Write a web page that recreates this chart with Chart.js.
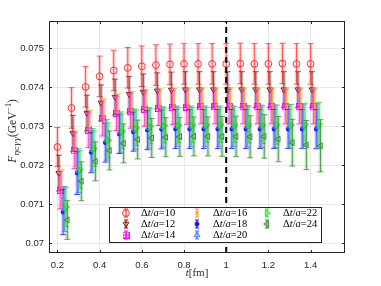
<!DOCTYPE html>
<html>
<head>
<meta charset="utf-8">
<script src="https://cdn.jsdelivr.net/npm/chart.js@4.4.0/dist/chart.umd.min.js"></script>
<style>
  html, body { margin: 0; padding: 0; background: #fff; }
  #wrap { width: 381px; height: 286px; }
</style>
</head>
<body>
<div id="wrap"><canvas id="myChart" width="381" height="286"></canvas></div>
<script>
// t in fm (t = n*a), one value per time slice
const tFm = [0.2, 0.2667, 0.3333, 0.4, 0.4667, 0.5333, 0.6, 0.6667, 0.7333, 0.8,
  0.8667, 0.9333, 1.0, 1.0667, 1.1333, 1.2, 1.2667, 1.3333, 1.4];

const seriesNames = ["10", "12", "14", "16", "18", "20", "22", "24"];

const val10 = [0.07247, 0.07347, 0.07401, 0.07428, 0.07443, 0.07450, 0.07454, 0.07457, 0.07459, 0.07460, 0.07460, 0.07460, 0.07460, 0.07461, 0.07460, 0.07460, 0.07461, 0.07460, 0.07460];
const err10 = [0.00050, 0.00052, 0.00052, 0.00052, 0.00052, 0.00052, 0.00052, 0.00052, 0.00052, 0.00052, 0.00052, 0.00052, 0.00052, 0.00052, 0.00052, 0.00052, 0.00052, 0.00052, 0.00052];

const val12 = [0.07180, 0.07282, 0.07334, 0.07360, 0.07375, 0.07382, 0.07388, 0.07391, 0.07393, 0.07394, 0.07394, 0.07394, 0.07394, 0.07394, 0.07394, 0.07394, 0.07394, 0.07394, 0.07394];
const err12 = [0.00046, 0.00046, 0.00046, 0.00046, 0.00046, 0.00046, 0.00046, 0.00046, 0.00046, 0.00046, 0.00046, 0.00046, 0.00046, 0.00046, 0.00046, 0.00046, 0.00046, 0.00046, 0.00046];

const val14 = [0.07136, 0.07237, 0.07290, 0.07319, 0.07333, 0.07339, 0.07344, 0.07346, 0.07348, 0.07349, 0.07350, 0.07350, 0.07350, 0.07350, 0.07350, 0.07350, 0.07350, 0.07350, 0.07350];
const err14 = [0.00048, 0.00046, 0.00045, 0.00044, 0.00044, 0.00044, 0.00044, 0.00044, 0.00044, 0.00044, 0.00044, 0.00044, 0.00044, 0.00044, 0.00044, 0.00044, 0.00044, 0.00044, 0.00044];

const val16 = [0.07141, 0.07242, 0.07296, 0.07325, 0.07338, 0.07344, 0.07349, 0.07351, 0.07352, 0.07353, 0.07353, 0.07353, 0.07353, 0.07353, 0.07353, 0.07353, 0.07353, 0.07353, 0.07353];
const err16 = [0.00047, 0.00046, 0.00045, 0.00045, 0.00045, 0.00045, 0.00045, 0.00045, 0.00045, 0.00045, 0.00045, 0.00045, 0.00045, 0.00045, 0.00045, 0.00045, 0.00045, 0.00045, 0.00045];

const val18 = [0.07080, 0.07180, 0.07233, 0.07258, 0.07280, 0.07286, 0.07290, 0.07292, 0.07293, 0.07293, 0.07293, 0.07293, 0.07293, 0.07293, 0.07293, 0.07293, 0.07293, 0.07293, 0.07293];
const err18 = [0.00058, 0.00055, 0.00052, 0.00050, 0.00050, 0.00050, 0.00050, 0.00050, 0.00050, 0.00050, 0.00050, 0.00050, 0.00050, 0.00050, 0.00050, 0.00050, 0.00050, 0.00050, 0.00050];

const val20 = [0.07088, 0.07186, 0.07240, 0.07265, 0.07285, 0.07292, 0.07296, 0.07298, 0.07300, 0.07300, 0.07300, 0.07300, 0.07300, 0.07300, 0.07300, 0.07300, 0.07300, 0.07300, 0.07300];
const err20 = [0.00058, 0.00056, 0.00054, 0.00052, 0.00052, 0.00052, 0.00052, 0.00052, 0.00052, 0.00052, 0.00052, 0.00052, 0.00052, 0.00053, 0.00054, 0.00055, 0.00056, 0.00057, 0.00058];

const val22 = [0.07093, 0.07189, 0.07243, 0.07264, 0.07287, 0.07296, 0.07300, 0.07302, 0.07303, 0.07303, 0.07304, 0.07304, 0.07304, 0.07304, 0.07304, 0.07304, 0.07304, 0.07305, 0.07305];
const err22 = [0.00050, 0.00048, 0.00046, 0.00045, 0.00045, 0.00045, 0.00045, 0.00045, 0.00045, 0.00045, 0.00045, 0.00045, 0.00046, 0.00047, 0.00048, 0.00050, 0.00052, 0.00054, 0.00056];

const val24 = [0.07060, 0.07159, 0.07210, 0.07238, 0.07256, 0.07266, 0.07270, 0.07272, 0.07273, 0.07274, 0.07274, 0.07274, 0.07274, 0.07273, 0.07274, 0.07267, 0.07258, 0.07252, 0.07250];
const err24 = [0.00050, 0.00050, 0.00050, 0.00050, 0.00050, 0.00050, 0.00050, 0.00050, 0.00050, 0.00050, 0.00050, 0.00051, 0.00052, 0.00054, 0.00056, 0.00058, 0.00060, 0.00063, 0.00067];

const xTicks = [0.2, 0.4, 0.6, 0.8, 1, 1.2, 1.4];
const yTicks = [0.07, 0.071, 0.072, 0.073, 0.074, 0.075];

const allVals = [val10, val12, val14, val16, val18, val20, val22, val24];
const allErrs = [err10, err12, err14, err16, err18, err20, err22, err24];

// square with a plus inside, used for the dt/a=14 marker
function boxPlus(color) {
  const c = document.createElement("canvas");
  c.width = 7;
  c.height = 7;
  const g = c.getContext("2d");
  g.strokeStyle = color;
  g.lineWidth = 1;
  g.strokeRect(0.5, 0.5, 6, 6);
  g.beginPath();
  g.moveTo(3.5, 0.5); g.lineTo(3.5, 6.5);
  g.moveTo(0.5, 3.5); g.lineTo(6.5, 3.5);
  g.stroke();
  return c;
}

const styles = [
  { color: "rgb(255,45,45)", band: "rgba(255,90,90,0.28)", pointStyle: "circle", rotation: 0, radius: 3.4 },
  { color: "rgb(135,25,25)", band: "rgba(135,60,60,0.28)", pointStyle: "triangle", rotation: 180, radius: 3.4 },
  { color: "rgb(255,0,255)", band: "rgba(255,80,255,0.28)", pointStyle: boxPlus("rgb(255,0,255)"), rotation: 0, radius: 3 },
  { color: "rgb(255,150,30)", band: "rgba(255,170,60,0.3)", pointStyle: "crossRot", rotation: 0, radius: 2.6 },
  { color: "rgb(20,20,255)", band: "rgba(60,60,255,0.22)", pointStyle: "star", rotation: 0, radius: 2.4 },
  { color: "rgb(70,130,240)", band: "rgba(90,140,240,0.28)", pointStyle: "triangle", rotation: 0, radius: 3.4 },
  { color: "rgb(40,230,40)", band: "rgba(80,230,80,0.28)", pointStyle: "triangle", rotation: 90, radius: 3.4 },
  { color: "rgb(50,140,50)", band: "rgba(70,150,70,0.28)", pointStyle: "triangle", rotation: -90, radius: 3.4 }
];

const datasets = seriesNames.map((name, i) => ({
  label: "\u0394t/a=" + name,
  data: tFm.map((t, j) => ({ x: t + i * 0.0067, y: allVals[i][j] })),
  errors: allErrs[i],
  bandColor: styles[i].band,
  showLine: false,
  borderColor: styles[i].color,
  backgroundColor: "rgba(0,0,0,0)",
  pointBackgroundColor: "rgba(0,0,0,0)",
  pointStyle: styles[i].pointStyle,
  pointRotation: styles[i].rotation,
  pointRadius: styles[i].radius,
  pointBorderWidth: i === 4 ? 1.4 : 1,
  order: -i
}));

// dashed line at t = 1 fm
datasets.push({
  label: "t1",
  data: [{ x: 1, y: 0.06975 }, { x: 1, y: 0.0757 }],
  showLine: true,
  borderColor: "#000",
  borderWidth: 2,
  borderDash: [6, 4],
  pointRadius: 0,
  order: -100
});

const axisColor = "#262626";

const errorBars = {
  id: "errorBars",
  beforeDatasetDraw(chart, args) {
    const ds = chart.data.datasets[args.index];
    if (!ds.errors) return;
    const ctx = chart.ctx;
    const xs = chart.scales.x, ys = chart.scales.y;
    ctx.save();
    ds.data.forEach((p, j) => {
      const x = xs.getPixelForValue(p.x);
      const top = ys.getPixelForValue(p.y + ds.errors[j]);
      const bot = ys.getPixelForValue(p.y - ds.errors[j]);
      ctx.fillStyle = ds.bandColor;
      ctx.fillRect(x - 1.8, top, 3.6, bot - top);
      ctx.strokeStyle = ds.borderColor;
      ctx.globalAlpha = 0.85;
      ctx.lineWidth = 0.9;
      ctx.beginPath();
      ctx.moveTo(x, top); ctx.lineTo(x, bot);
      ctx.moveTo(x - 3, top); ctx.lineTo(x + 3, top);
      ctx.moveTo(x - 3, bot); ctx.lineTo(x + 3, bot);
      ctx.stroke();
      ctx.globalAlpha = 1;
    });
    ctx.restore();
  }
};

// draws a run of text pieces: [text, font, dy]
function drawPieces(ctx, pieces, x, y) {
  let cx = x;
  pieces.forEach(([txt, font, dy]) => {
    ctx.font = font;
    ctx.fillText(txt, cx, y + (dy || 0));
    cx += ctx.measureText(txt).width;
  });
  return cx - x;
}
function piecesWidth(ctx, pieces) {
  let w = 0;
  pieces.forEach(([txt, font]) => { ctx.font = font; w += ctx.measureText(txt).width; });
  return w;
}

const frame = {
  id: "frame",
  afterDraw(chart) {
    const ctx = chart.ctx;
    const ca = chart.chartArea;
    const xs = chart.scales.x, ys = chart.scales.y;
    ctx.save();
    // box and inward ticks
    ctx.strokeStyle = axisColor;
    ctx.lineWidth = 1;
    ctx.strokeRect(ca.left + 0.5, ca.top + 0.5, ca.right - ca.left - 1, ca.bottom - ca.top - 1);
    ctx.beginPath();
    xTicks.forEach(v => {
      const x = Math.round(xs.getPixelForValue(v)) + 0.5;
      ctx.moveTo(x, ca.bottom); ctx.lineTo(x, ca.bottom - 3);
      ctx.moveTo(x, ca.top); ctx.lineTo(x, ca.top + 3);
    });
    yTicks.forEach(v => {
      const y = Math.round(ys.getPixelForValue(v)) + 0.5;
      ctx.moveTo(ca.left, y); ctx.lineTo(ca.left + 3, y);
      ctx.moveTo(ca.right, y); ctx.lineTo(ca.right - 3, y);
    });
    ctx.stroke();

    // legend box
    const bx = ca.left + 60, bw = 212, bh = 35;
    const by = ca.bottom - 11 - bh;
    ctx.fillStyle = "#fff";
    ctx.fillRect(bx, by, bw, bh);
    ctx.strokeStyle = axisColor;
    ctx.strokeRect(bx + 0.5, by + 0.5, bw, bh);
    const colMark = [17, 88, 158], colText = [32, 104, 174];
    const rowY = [6, 17, 28];
    ctx.textBaseline = "middle";
    seriesNames.forEach((name, i) => {
      const col = Math.floor(i / 3), row = i % 3;
      const mx = bx + colMark[col], my = by + rowY[row];
      const st = styles[i];
      ctx.strokeStyle = st.color;
      ctx.fillStyle = st.band;
      ctx.fillRect(mx - 1.5, my - 4, 3, 8);
      ctx.lineWidth = 1;
      ctx.beginPath();
      ctx.moveTo(mx, my - 4); ctx.lineTo(mx, my + 4);
      ctx.moveTo(mx - 2, my - 4); ctx.lineTo(mx + 2, my - 4);
      ctx.moveTo(mx - 2, my + 4); ctx.lineTo(mx + 2, my + 4);
      ctx.stroke();
      ctx.fillStyle = "rgba(0,0,0,0)";
      ctx.lineWidth = i === 4 ? 1.4 : 1;
      Chart.helpers.drawPoint(ctx, {
        pointStyle: st.pointStyle, rotation: st.rotation, radius: st.radius, borderWidth: 1
      }, mx, my);
      ctx.fillStyle = "#000";
      drawPieces(ctx, [
        ["\u0394", "10.5px 'Liberation Serif'"],
        ["t", "italic 10.5px 'Liberation Serif'"],
        ["/", "10.5px 'Liberation Serif'"],
        ["a", "italic 10.5px 'Liberation Serif'"],
        ["=" + name, "10.5px 'Liberation Serif'"]
      ], bx + colText[col], my + 0.5);
    });

    // x title
    ctx.fillStyle = axisColor;
    ctx.textBaseline = "alphabetic";
    const xt = [
      ["t", "italic 11px 'Liberation Serif'"],
      ["[fm]", "11px 'Liberation Serif'"]
    ];
    const xw = piecesWidth(ctx, xt);
    drawPieces(ctx, xt, (ca.left + ca.right) / 2 - xw / 2, 276);

    // y title, rotated
    const yt = [
      ["F", "italic 11.5px 'Liberation Serif'"],
      ["\u03b7c\u03b3\u03b3", "italic 8px 'DejaVu Serif'", 3],
      ["(GeV", "11.5px 'Liberation Serif'"],
      ["\u22121", "8px 'Liberation Serif'", -5],
      [")", "11.5px 'Liberation Serif'"]
    ];
    const yw = piecesWidth(ctx, yt);
    ctx.translate(16, 131);
    ctx.rotate(-Math.PI / 2);
    drawPieces(ctx, yt, -yw / 2, 0);
    ctx.restore();
  }
};

const ctx = document.getElementById("myChart").getContext("2d");
const myChart = new Chart(ctx, {
  type: "scatter",
  data: { datasets: datasets },
  options: {
    responsive: false,
    animation: false,
    devicePixelRatio: 1,
    layout: { padding: { left: 0, right: 36, top: 21, bottom: 0 } },
    plugins: { legend: { display: false }, tooltip: { enabled: false } },
    scales: {
      x: {
        type: "linear",
        min: 0.16,
        max: 1.563,
        afterBuildTicks: (s) => { s.ticks = xTicks.map(v => ({ value: v })); },
        afterFit: (s) => { s.height = 33; },
        grid: { color: "#e8e8e8", drawTicks: false },
        border: { display: false },
        ticks: {
          padding: 7,
          color: axisColor,
          font: { family: "'Liberation Sans'", size: 9.5 },
          callback: (v) => String(+Number(v).toFixed(3))
        }
      },
      y: {
        type: "linear",
        min: 0.06975,
        max: 0.0757,
        afterBuildTicks: (s) => { s.ticks = yTicks.map(v => ({ value: v })); },
        afterFit: (s) => { s.width = 49; },
        grid: { color: "#e8e8e8", drawTicks: false },
        border: { display: false },
        ticks: {
          padding: 5,
          color: axisColor,
          font: { family: "'Liberation Sans'", size: 9.5 },
          callback: (v) => String(+Number(v).toFixed(4))
        }
      }
    }
  },
  plugins: [errorBars, frame]
});
</script>
</body>
</html>
